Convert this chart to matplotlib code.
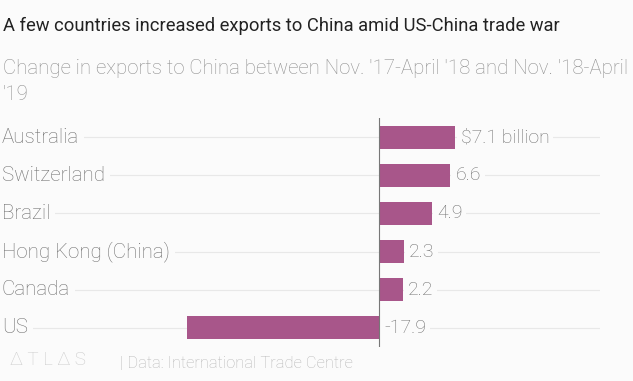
import matplotlib.pyplot as plt

countries = ["Australia", "Switzerland", "Brazil", "Hong Kong (China)", "Canada", "US"]
changes = [7.1, 6.6, 4.9, 2.3, 2.2, -17.9]
value_labels = ["$7.1 billion", "6.6", "4.9", "2.3", "2.2", "-17.9"]

W, H = 633, 381
bg = "#fbfbfb"
bar_color = "#a8568a"
plt.rcParams["font.family"] = ["Roboto", "DejaVu Sans"]

fig = plt.figure(figsize=(W / 100, H / 100), dpi=100, facecolor=bg)

# axes placed in pixel coords: x 0..600, y 118..347
ax = fig.add_axes([0, 1 - 347 / H, 600 / W, (347 - 118) / H])
ax.set_facecolor(bg)
ax.set_xlim(-379 / 10.75, 221 / 10.75)
ax.set_ylim(len(countries) - 0.5, -0.5)
ax.axis("off")

rows = list(range(len(countries)))
for i, name in enumerate(countries):
    ax.axhline(i, color="#e8e8e8", lw=0.8, zorder=0)
    ax.text(-35.1, i, name, va="center", ha="left", fontsize=14.8, color="#707070",
            fontweight="light",
            bbox=dict(boxstyle="square,pad=0.25", fc=bg, ec="none"), zorder=2)

ax.barh(rows, changes, height=0.6, color=bar_color, zorder=3)
ax.axvline(0, color="#777777", lw=0.8, zorder=4)

for i, (v, lab) in enumerate(zip(changes, value_labels)):
    x = v + 0.5 if v > 0 else 0.5
    ax.text(x, i, lab, va="center", ha="left", fontsize=14, color="#707070",
            fontweight="light",
            bbox=dict(boxstyle="square,pad=0.2", fc=bg, ec="none"), zorder=2)

fig.text(3 / W, 1 - 26 / H, "A few countries increased exports to China amid US-China trade war",
         fontsize=13.2, color="#222222", va="center", ha="left")
fig.text(3 / W, 1 - 68 / H, "Change in exports to China between Nov. '17-April '18 and Nov. '18-April",
         fontsize=14.7, color="#8f8f8f", va="center", ha="left", fontweight="light")
fig.text(3 / W, 1 - 95 / H, "'19", fontsize=14.7, color="#8f8f8f", va="center", ha="left",
         fontweight="light")

fig.text(10 / W, 1 - 360 / H, "\u0394 T L \u0394 S", fontsize=13.5, color="#cccccc", va="center", ha="left",
         fontweight="light")
fig.text(120 / W, 1 - 364 / H, "| Data: International Trade Centre", fontsize=11.9, color="#b8b8b8",
         va="center", ha="left", fontweight="light")

fig.savefig("out.png", dpi=100, facecolor=bg)
